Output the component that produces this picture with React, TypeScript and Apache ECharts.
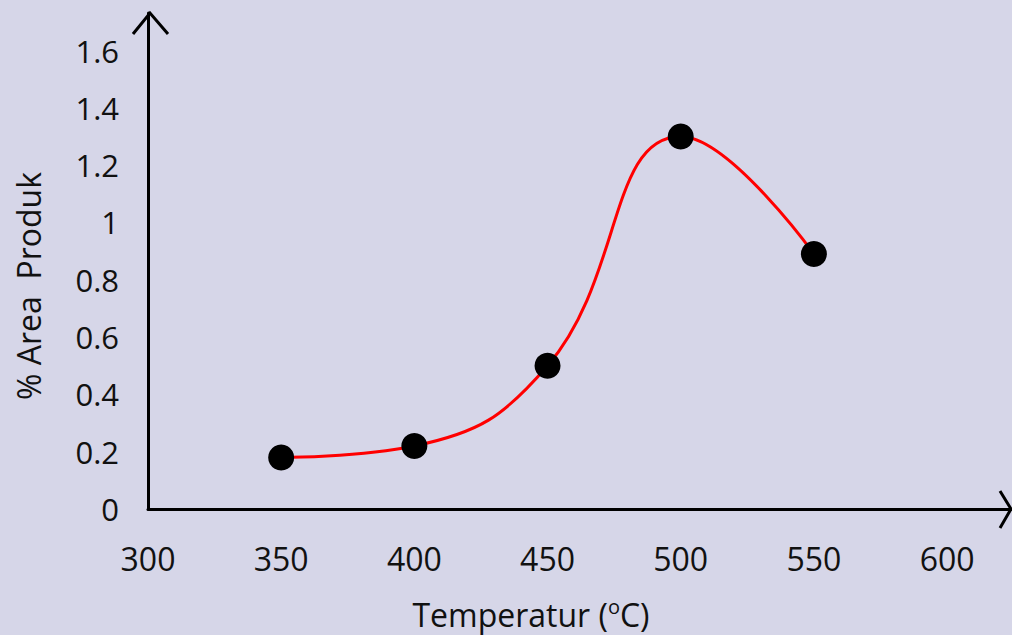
import React, { useEffect, useRef } from "react";
import * as echarts from "echarts";

const temperatures = [350, 400, 450, 500, 550];
const areaProduk = [0.18, 0.22, 0.5, 1.3, 0.89];
const xTickStep = 50;
const yTickStep = 0.2;
const xMin = 300;
const xLastLabel = 600;
const yMin = 0;
const yLastLabel = 1.6;

const BG = "#d6d6e8";
const FONT = "'Open Sans', 'Noto Sans', sans-serif";

export default function App() {
  const ref = useRef<HTMLDivElement>(null);
  useEffect(() => {
    document.body.style.margin = "0";
    document.body.style.background = BG;
    const chart = echarts.init(ref.current!, null, { renderer: "svg" });
    const isTick = (v: number, step: number, last: number) =>
      Math.abs(v / step - Math.round(v / step)) < 1e-6 && v <= last + 1e-6;
    chart.setOption({
      animation: false,
      backgroundColor: BG,
      grid: { left: 148, right: 1, top: 13, bottom: 126, containLabel: false },
      xAxis: {
        type: "value",
        min: xMin,
        max: 624,
        interval: xTickStep,
        axisLine: { show: true, lineStyle: { color: "#000", width: 3 } },
        axisTick: { show: false },
        splitLine: { show: false },
        axisLabel: {
          color: "#111",
          fontFamily: FONT,
          fontSize: 32,
          margin: 33,
          showMaxLabel: false,
          formatter: (v: number) => (isTick(v, xTickStep, xLastLabel) ? String(v) : ""),
        },
      },
      yAxis: {
        type: "value",
        min: yMin,
        max: 1.731,
        interval: yTickStep,
        axisLine: { show: true, lineStyle: { color: "#000", width: 3 } },
        axisTick: { show: false },
        splitLine: { show: false },
        axisLabel: {
          color: "#111",
          fontFamily: FONT,
          fontSize: 31,
          margin: 29,
          padding: [10, 0, 0, 0],
          showMaxLabel: false,
          formatter: (v: number) =>
            isTick(v, yTickStep, yLastLabel) ? String(Math.round(v * 10) / 10) : "",
        },
      },
      graphic: [
        {
          type: "polyline",
          shape: { points: [[133, 34], [150, 13], [168, 34]] },
          style: { stroke: "#000", lineWidth: 3, fill: null },
          z: 10,
        },
        {
          type: "polyline",
          shape: { points: [[1000, 491], [1011, 509], [1000, 528]] },
          style: { stroke: "#000", lineWidth: 3, fill: null },
          z: 10,
        },
        {
          type: "text",
          x: 28,
          y: 286,
          rotation: Math.PI / 2,
          style: {
            text: "% Area  Produk",
            font: `32px ${FONT}`,
            fill: "#111",
            align: "center",
            verticalAlign: "middle",
          },
        },
        {
          type: "text",
          x: 531,
          y: 614,
          style: {
            text: "Temperatur ({sup|o}C)",
            font: `32px ${FONT}`,
            fill: "#111",
            align: "center",
            verticalAlign: "middle",
            rich: {
              sup: { fontSize: 20, fontFamily: FONT, fill: "#111", padding: [0, 0, 16, 0] },
            },
          },
        },
      ],
      series: [
        {
          type: "line",
          data: temperatures.map((t, i) => [t, areaProduk[i]]),
          smooth: 0.45,
          lineStyle: { color: "#ff0000", width: 3 },
          itemStyle: { color: "#000" },
          symbol: "circle",
          symbolSize: 26,
          z: 3,
        },
      ],
    });
    return () => chart.dispose();
  }, []);
  return (
    <div
      ref={ref}
      style={{ position: "fixed", left: 0, top: 0, width: 1012, height: 635 }}
    />
  );
}
